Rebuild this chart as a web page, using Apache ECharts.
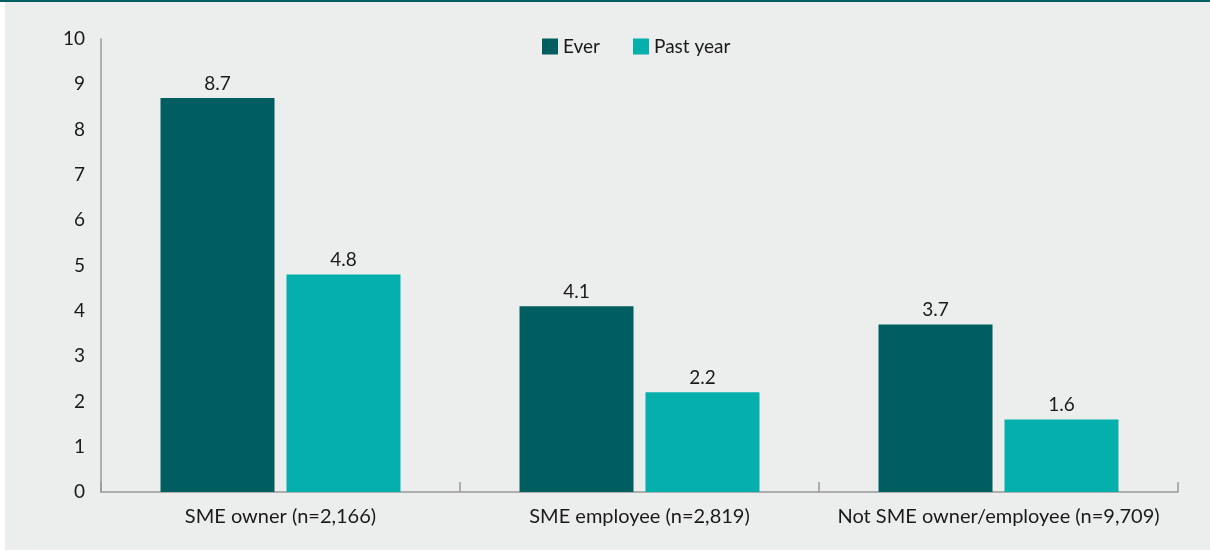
<!DOCTYPE html>
<html>
<head>
<meta charset="utf-8">
<script src="https://cdn.jsdelivr.net/npm/echarts@6/dist/echarts.min.js"></script>
<style>
  html, body { margin: 0; padding: 0; background: #ffffff; }
  #chart { width: 1210px; height: 551px; }
</style>
</head>
<body>
<div id="chart"></div>
<script>
const categories = ['SME owner (n=2,166)', 'SME employee (n=2,819)', 'Not SME owner/employee (n=9,709)'];
const everValues = [8.7, 4.1, 3.7];
const pastYearValues = [4.8, 2.2, 1.6];
const seriesNames = ['Ever', 'Past year'];

const FONT = 'Lato, "Open Sans", sans-serif';
const TEXT = '#1a1a1a';
const FS = 19;

const chart = echarts.init(document.getElementById('chart'), null, { renderer: 'canvas' });

chart.setOption({
  backgroundColor: '#ffffff',
  animation: false,
  textStyle: { fontFamily: FONT },
  graphic: [
    { type: 'rect', z: -10, shape: { x: 5, y: 2, width: 1205, height: 548 }, style: { fill: '#eceded' } },
    { type: 'rect', z: -9, shape: { x: 0, y: 0, width: 1210, height: 2 }, style: { fill: '#005f60' } }
  ],
  legend: {
    top: 37,
    left: 542,
    padding: 0,
    itemWidth: 16,
    itemHeight: 16,
    itemGap: 33,
    icon: 'rect',
    textStyle: { fontSize: FS, color: TEXT, fontFamily: FONT },
    data: seriesNames
  },
  grid: { left: 101, right: 32, top: 39, bottom: 59, containLabel: false },
  xAxis: {
    type: 'category',
    data: categories,
    axisLine: { lineStyle: { color: '#999999', width: 1.5 } },
    axisTick: { show: true, inside: true, length: 10, lineStyle: { color: '#999999', width: 1.5 } },
    axisLabel: { interval: 0, fontSize: 20, color: TEXT, margin: 15, fontFamily: FONT }
  },
  yAxis: {
    type: 'value',
    min: 0,
    max: 10,
    interval: 1,
    axisLine: { show: true, lineStyle: { color: '#999999', width: 1.5 } },
    axisTick: { show: false },
    splitLine: { show: false },
    axisLabel: { fontSize: FS, color: TEXT, margin: 16, fontFamily: FONT }
  },
  series: [
    {
      name: seriesNames[0],
      type: 'bar',
      data: everValues,
      barWidth: 114,
      barGap: '10.5%',
      itemStyle: { color: '#005e60' },
      label: { show: true, position: 'top', distance: 5, fontSize: FS, color: TEXT, fontFamily: FONT }
    },
    {
      name: seriesNames[1],
      type: 'bar',
      data: pastYearValues,
      barWidth: 114,
      itemStyle: { color: '#05b0ac' },
      label: { show: true, position: 'top', distance: 5, fontSize: FS, color: TEXT, fontFamily: FONT }
    }
  ]
});
</script>
</body>
</html>
